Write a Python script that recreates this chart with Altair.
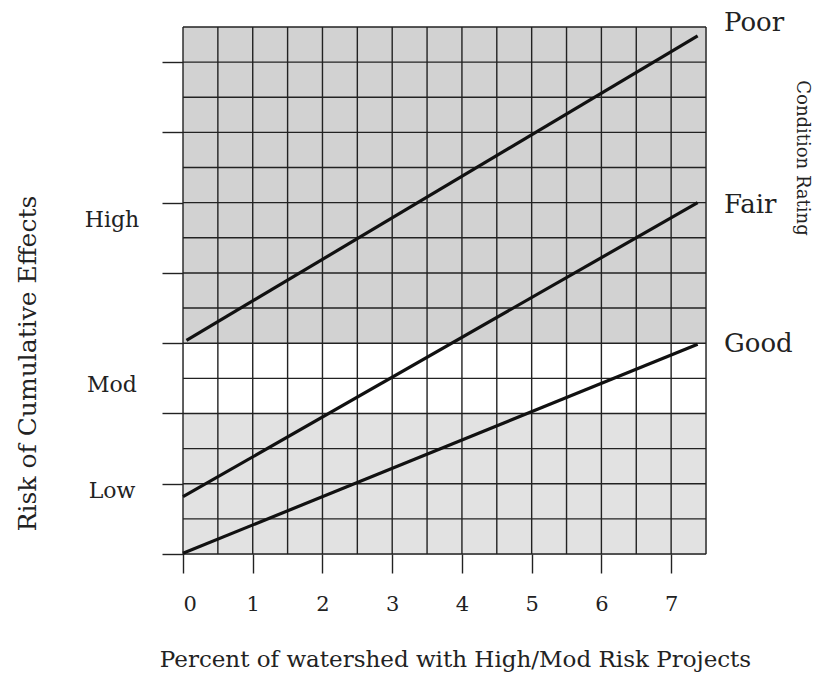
import altair as alt
import pandas as pd

# --- data ---
band_lo = [6, 0]
band_hi = [15, 4]
band_kind = ["dense", "light"]

poor_x = [0.05, 7.38]
poor_y = [6.08, 14.75]
fair_x = [0.0, 7.38]
fair_y = [1.63, 10.0]
good_x = [0.0, 7.38]
good_y = [0.02, 5.97]

risk_labels = ["High", "Mod", "Low"]
risk_y = [9.5, 4.8, 1.78]

cond_labels = ["Poor", "Fair", "Good"]
cond_y = [15.1, 9.92, 5.97]

x_ticks = [i * 0.5 for i in range(16)]
y_ticks = list(range(16))

FONT = "DejaVu Serif"
W, H = 523, 527

bands = pd.DataFrame({"lo": band_lo, "hi": band_hi, "kind": band_kind,
                      "x0": [0, 0], "x1": [7.5, 7.5]})
lines = pd.DataFrame({
    "x": poor_x + fair_x + good_x,
    "y": poor_y + fair_y + good_y,
    "cond": ["Poor"] * 2 + ["Fair"] * 2 + ["Good"] * 2,
})
risk = pd.DataFrame({"label": risk_labels, "y": risk_y})
cond = pd.DataFrame({"label": cond_labels, "y": cond_y})

xscale = alt.Scale(domain=[0, 7.5], nice=False, zero=False)
yscale = alt.Scale(domain=[0, 15], nice=False, zero=False)

xaxis = alt.Axis(
    values=x_ticks, grid=False,
    tickColor="#222", tickWidth=1.4, tickSize=19, domain=False,
    format="~g",
    labelExpr="datum.value % 1 == 0 && datum.value < 7.5 ? datum.label : ''",
    labelFont=FONT, labelFontSize=21, labelColor="#222", labelPadding=20,
    title="Percent of watershed with High/Mod Risk Projects",
    titleFont=FONT, titleFontSize=23, titleFontWeight="normal", titleColor="#222",
    titleX=272, titleY=105, titleBaseline="middle",
)
yaxis = alt.Axis(
    values=y_ticks, grid=False,
    tickColor="#222", tickWidth=1.4, tickSize=21, domain=False, labels=False,
    title="Risk of Cumulative Effects",
    titleFont=FONT, titleFontSize=25, titleFontWeight="normal", titleColor="#222",
    titleX=-156, titleY=336, titleBaseline="middle", titleAngle=-90,
)

band_layer = alt.Chart(bands).mark_rect().encode(
    x=alt.X("x0:Q", scale=xscale, axis=xaxis),
    x2="x1:Q",
    y=alt.Y("lo:Q", scale=yscale, axis=yaxis),
    y2="hi:Q",
    color=alt.Color("kind:N", scale=alt.Scale(domain=["dense", "light"],
                                              range=["#d2d2d2", "#e2e2e2"]), legend=None),
)

grid_v = alt.Chart(pd.DataFrame({"v": x_ticks})).mark_rule(color="#222", strokeWidth=1.4).encode(
    x=alt.X("v:Q", scale=xscale), y=alt.value(0), y2=alt.value(H)
)
grid_h = alt.Chart(pd.DataFrame({"v": y_ticks})).mark_rule(color="#222", strokeWidth=1.4).encode(
    y=alt.Y("v:Q", scale=yscale), x=alt.value(0), x2=alt.value(W)
)

line_layer = alt.Chart(lines).mark_line(color="#111", strokeWidth=3.2).encode(
    x=alt.X("x:Q", scale=xscale),
    y=alt.Y("y:Q", scale=yscale),
    detail="cond:N",
)

risk_layer = alt.Chart(risk).mark_text(font=FONT, fontSize=22, color="#222", align="center",
                                       baseline="middle").encode(
    x=alt.value(-71), y=alt.Y("y:Q", scale=yscale), text="label:N"
)

cond_layer = alt.Chart(cond).mark_text(font=FONT, fontSize=26, color="#222", align="left",
                                       baseline="middle").encode(
    x=alt.value(W + 18), y=alt.Y("y:Q", scale=yscale), text="label:N"
)

cond_title = alt.Chart(pd.DataFrame({"t": ["Condition Rating"]})).mark_text(
    font=FONT, fontSize=18, color="#222", align="center", baseline="middle", angle=90
).encode(x=alt.value(619), y=alt.value(131), text="t:N")

chart = alt.layer(
    band_layer, grid_v, grid_h, line_layer, risk_layer, cond_layer, cond_title
).properties(
    width=W, height=H,
    autosize=alt.AutoSizeParams(type="none"),
    padding={"left": 175, "top": 19, "right": 110, "bottom": 119},
).configure_view(stroke=None).configure(background="white")

chart.save("out.html", embed_options={"renderer": "svg", "actions": False})
